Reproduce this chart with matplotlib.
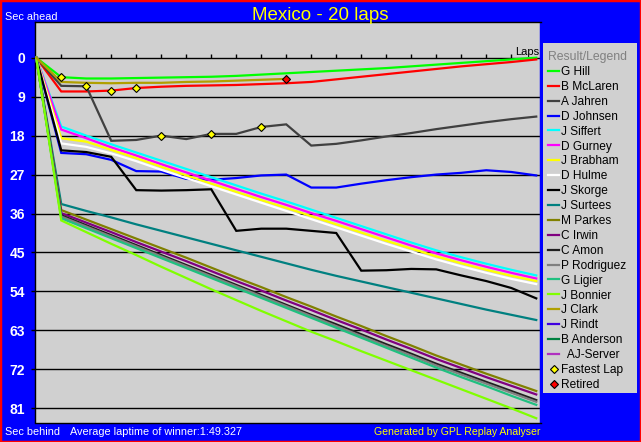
import matplotlib
matplotlib.use('Agg')
import matplotlib.pyplot as plt
from matplotlib.patches import Rectangle

plt.rcParams['font.family'] = ['Liberation Sans', 'DejaVu Sans']

# Gap to the winner (seconds), one value per completed lap
laps = list(range(0, 21))

hill = [0, 4.5, 4.8, 4.8, 4.7, 4.6, 4.5, 4.4, 4.2, 3.9, 3.6, 3.3, 3.0, 2.7, 2.4, 2.0, 1.6, 1.2, 0.8, 0.4, 0.0]
mclaren = [0, 7.8, 7.8, 7.6, 7.0, 6.7, 6.5, 6.4, 6.3, 6.1, 5.9, 5.6, 5.0, 4.4, 3.8, 3.2, 2.6, 2.0, 1.5, 1.0, 0.4]
jahren = [0, 6.5, 6.6, 19.2, 19.0, 18.0, 18.8, 17.6, 17.6, 16.0, 15.4, 20.3, 19.9, 19.1, 18.2, 17.4, 16.5, 15.7, 14.9, 14.2, 13.6]
johnsen = [0, 22.0, 22.3, 23.6, 26.2, 26.3, 28.0, 28.2, 27.8, 27.2, 27.0, 30.0, 30.0, 29.1, 28.3, 27.6, 27.0, 26.6, 26.0, 26.4, 27.2]
siffert = [0, 15.9, 18.0, 20.0, 21.9, 23.8, 25.7, 27.6, 29.5, 31.4, 33.2, 35.1, 37.0, 38.9, 40.8, 42.7, 44.5, 46.1, 47.6, 49.0, 50.3]
gurney = [0, 16.6, 18.6, 20.7, 22.6, 24.6, 26.5, 28.4, 30.3, 32.2, 34.0, 35.9, 37.7, 39.6, 41.5, 43.4, 45.2, 46.8, 48.3, 49.7, 51.0]
brabham = [0, 18.6, 19.4, 21.3, 23.2, 25.2, 27.2, 29.1, 31.0, 32.9, 34.7, 36.6, 38.5, 40.4, 42.3, 44.1, 45.9, 47.5, 49.0, 50.4, 51.6]
hulme = [0, 19.8, 20.6, 22.1, 23.9, 25.9, 27.8, 29.7, 31.6, 33.5, 35.4, 37.3, 39.2, 41.1, 43.0, 44.8, 46.6, 48.2, 49.7, 51.1, 52.3]
skorge = [0, 21.4, 21.8, 22.9, 30.6, 30.7, 30.6, 30.4, 40.0, 39.5, 39.5, 40.0, 40.5, 49.2, 49.1, 48.8, 48.9, 50.3, 51.6, 53.2, 55.6]
surtees = [0, 33.8, 35.4, 36.9, 38.5, 40.0, 41.5, 43.0, 44.5, 46.0, 47.5, 49.0, 50.4, 51.7, 53.0, 54.3, 55.6, 56.9, 58.2, 59.4, 60.6]
parkes = [0, 35.2, 37.4, 39.6, 41.8, 44.0, 46.2, 48.5, 50.8, 53.0, 55.3, 57.5, 59.8, 62.0, 64.3, 66.5, 68.8, 70.9, 73.0, 75.0, 77.0]
irwin = [0, 35.9, 38.1, 40.3, 42.6, 44.8, 47.0, 49.3, 51.6, 53.8, 56.1, 58.3, 60.6, 62.8, 65.1, 67.3, 69.6, 71.7, 73.8, 75.8, 77.8]
amon = [0, 36.4, 38.7, 41.0, 43.3, 45.6, 47.9, 50.2, 52.5, 54.8, 57.1, 59.4, 61.6, 63.9, 66.2, 68.4, 70.7, 72.8, 74.9, 77.0, 79.1]
rodriguez = [0, 36.7, 39.0, 41.3, 43.6, 45.9, 48.2, 50.5, 52.8, 55.1, 57.4, 59.7, 62.0, 64.3, 66.6, 68.8, 71.1, 73.2, 75.3, 77.4, 79.5]
ligier = [0, 37.1, 39.4, 41.7, 44.0, 46.3, 48.6, 50.9, 53.2, 55.5, 57.8, 60.1, 62.4, 64.7, 67.0, 69.3, 71.6, 73.8, 75.9, 78.1, 80.2]
bonnier = [0, 37.6, 40.3, 43.0, 45.6, 48.3, 50.9, 53.5, 56.0, 58.5, 60.9, 63.3, 65.5, 67.8, 70.0, 72.2, 74.4, 76.6, 78.8, 81.0, 83.3]
clark = [0, 5.6, 5.8, 5.9, 5.8, 5.8, 5.6, 5.5, 5.3, 5.1, 4.9]
rindt = []
anderson = []
ajserver = []

drivers = ['G Hill', 'B McLaren', 'A Jahren', 'D Johnsen', 'J Siffert', 'D Gurney',
           'J Brabham', 'D Hulme', 'J Skorge', 'J Surtees', 'M Parkes', 'C Irwin',
           'C Amon', 'P Rodriguez', 'G Ligier', 'J Bonnier', 'J Clark', 'J Rindt',
           'B Anderson', '  AJ-Server']
gaps = [hill, mclaren, jahren, johnsen, siffert, gurney, brabham, hulme, skorge,
        surtees, parkes, irwin, amon, rodriguez, ligier, bonnier, clark, rindt,
        anderson, ajserver]
colors = ['#00ff00', '#ff0000', '#404040', '#0000ff', '#00ffff', '#ff00ff',
          '#ffff00', '#ffffff', '#000000', '#008080', '#808000', '#800080',
          '#202020', '#808080', '#20c080', '#80ff00', '#b0a000', '#4000e0',
          '#008040', '#b030c0']

fastest_laps = [1, 2, 3, 4, 5, 7, 9]
fastest_by = ['G Hill', 'A Jahren', 'B McLaren', 'B McLaren', 'A Jahren', 'A Jahren', 'A Jahren']
retired_driver = 'J Clark'

yticks = list(range(0, 82, 9))

W, H = 641, 442
fig = plt.figure(figsize=(W / 100, H / 100), dpi=100, facecolor='#0000ff')
ax = fig.add_axes([34.5 / W, 1 - 422.5 / H, 506 / W, 400.5 / H], facecolor='#d0d0d0')

series = dict(zip(drivers, gaps))
handles = []
for name, g, c in zip(drivers, gaps, colors):
    ln, = ax.plot(laps[:len(g)], g, color=c, lw=1.6, solid_joinstyle='miter', zorder=3)
    handles.append(ln)

fx = fastest_laps
fy = [series[d][l] for l, d in zip(fastest_laps, fastest_by)]
h_fast, = ax.plot(fx, fy, ls='none', marker='D', ms=4.5, mfc='#ffff00', mec='black', mew=0.8, zorder=5)
rg = series[retired_driver]
h_ret, = ax.plot([len(rg) - 1], [rg[-1]], ls='none', marker='D', ms=4.5, mfc='#ff0000', mec='black', mew=0.8, zorder=5)

# lap ticks on the zero line
ax.vlines(laps[1:20], -0.95, 0, color='black', lw=1, zorder=2)
ax.text(20.1, -0.6, 'Laps', ha='right', va='baseline', fontsize=8, color='black')

ax.set_xlim(-0.07, 20.17)
ax.set_ylim(84.28, -8.25)
ax.set_xticks([])
ax.set_yticks(yticks)
ax.set_yticklabels([str(v) for v in yticks], color='white', fontweight='bold', fontsize=10)
ax.tick_params(axis='y', direction='out', length=3, width=1, color='black', pad=4)
ax.yaxis.grid(True, color='black', lw=1)
ax.set_axisbelow(True)
for s in ['left', 'top', 'bottom']:
    ax.spines[s].set_color('black')
    ax.spines[s].set_linewidth(1)
ax.spines['right'].set_color('#0000ff')
ax.spines['right'].set_linewidth(2.5)

# legend panel
lax = fig.add_axes([543 / W, 1 - 393 / H, 94 / W, 350 / H], facecolor='#d0d0d0')
lax.set_xticks([])
lax.set_yticks([])
for s in lax.spines.values():
    s.set_visible(False)
leg = lax.legend(handles + [h_fast, h_ret], drivers + ['Fastest Lap', 'Retired'],
                 loc='upper left', bbox_to_anchor=(-0.03, 1.0), frameon=False,
                 title='Result/Legend', title_fontsize=8.8, fontsize=8.6,
                 handlelength=0.9, handletextpad=0.2, labelspacing=0.243,
                 borderpad=0.18, alignment='left', markerscale=1.0)
leg.get_title().set_color('#808080')

fig.text(0.5, 1 - 20.5 / H, 'Mexico - 20 laps', ha='center', va='baseline', fontsize=13.5, color='#ffff00')
fig.text(5 / W, 1 - 20 / H, 'Sec ahead', ha='left', va='baseline', fontsize=7.8, color='white')
fig.text(5 / W, 1 - 435 / H, 'Sec behind', ha='left', va='baseline', fontsize=7.8, color='white')
fig.text(70 / W, 1 - 435 / H, 'Average laptime of winner:1:49.327', ha='left', va='baseline', fontsize=7.8, color='white')
fig.text(541 / W, 1 - 435 / H, 'Generated by GPL Replay Analyser', ha='right', va='baseline', fontsize=7.6, color='#ffff00')

fig.patches.append(Rectangle((0, 0), 1, 1, transform=fig.transFigure, fill=False, edgecolor='red', lw=2.5))

fig.savefig('out.png', dpi=100, facecolor=fig.get_facecolor())
